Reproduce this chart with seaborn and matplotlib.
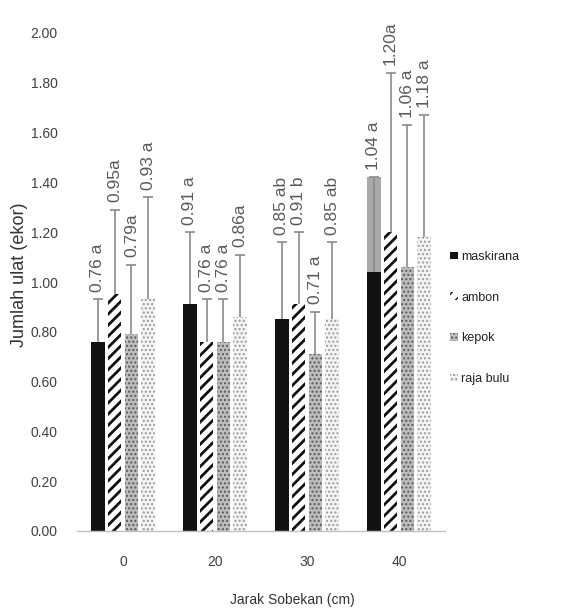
#!/usr/bin/env python3

"""
Jumlah ulat per varietas pisang menurut jarak sobekan daun.
"""

import matplotlib.patches as mpatches
import matplotlib.pyplot as plt
import pandas as pd
import seaborn as sns

# data
jarak = ["0", "20", "30", "40"]
varietas = ["maskirana", "ambon", "kepok", "raja bulu"]

maskirana = [0.76, 0.91, 0.85, 1.04]
ambon = [0.95, 0.76, 0.91, 1.20]
kepok = [0.79, 0.76, 0.71, 1.06]
raja_bulu = [0.93, 0.86, 0.85, 1.18]

# upper error (read from caps)
err_maskirana = [0.17, 0.29, 0.31, 0.38]
err_ambon = [0.34, 0.17, 0.29, 0.64]
err_kepok = [0.28, 0.17, 0.17, 0.57]
err_raja_bulu = [0.41, 0.25, 0.31, 0.49]

label_maskirana = ["0.76 a", "0.91 a", "0.85 ab", "1.04 a"]
label_ambon = ["0.95a", "0.76 a", "0.91 b", "1.20a"]
label_kepok = ["0.79a", "0.76 a", "0.71 a", "1.06 a"]
label_raja_bulu = ["0.93 a", "0.86a", "0.85 ab", "1.18 a"]

# error shown as a grey block in the original
sorot = ("40", "maskirana")

y_ticks = [0.0, 0.2, 0.4, 0.6, 0.8, 1.0, 1.2, 1.4, 1.6, 1.8, 2.0]


def main():
    sns.set_theme(style="white")
    plt.rcParams["font.family"] = ["Liberation Sans", "DejaVu Sans"]

    nilai = [maskirana, ambon, kepok, raja_bulu]
    galat = [err_maskirana, err_ambon, err_kepok, err_raja_bulu]
    teks = [label_maskirana, label_ambon, label_kepok, label_raja_bulu]

    rows = []
    for v, vals in zip(varietas, nilai):
        for j, y in zip(jarak, vals):
            rows.append({"jarak": j, "varietas": v, "jumlah": y})
    df = pd.DataFrame(rows)

    fig = plt.figure(figsize=(5.72, 6.13), dpi=100)
    ax = fig.add_axes([77 / 572, 1 - 531 / 613, 368 / 572, 498 / 613])

    sns.barplot(
        data=df, x="jarak", y="jumlah", hue="varietas",
        order=jarak, hue_order=varietas, errorbar=None,
        width=0.73, gap=0.2, ax=ax, legend=False,
    )

    styles = [
        dict(facecolor="#121212", edgecolor="#121212", hatch=None, hlw=1.0),
        dict(facecolor="white", edgecolor="#111111", hatch="///", hlw=2.0),
        dict(facecolor="#bdbdbd", edgecolor="#5a5a5a", hatch="....", hlw=1.0),
        dict(facecolor="#f4f4f4", edgecolor="#9a9a9a", hatch="....", hlw=1.0),
    ]

    for cont, st, vals, errs, labs, v in zip(ax.containers, styles, nilai, galat, teks, varietas):
        for p, y, e, lab, j in zip(cont.patches, vals, errs, labs, jarak):
            p.set_facecolor(st["facecolor"])
            p.set_edgecolor(st["edgecolor"])
            p.set_linewidth(0)
            if st["hatch"]:
                p.set_hatch(st["hatch"])
                if hasattr(p, "set_hatch_linewidth"):
                    p.set_hatch_linewidth(st["hlw"])
            xc = p.get_x() + p.get_width() / 2
            if (j, v) == sorot:
                ax.bar(xc, e, bottom=y, width=p.get_width(), color="#a9a9a9", linewidth=0)
            ax.vlines(xc, y, y + e, color="#8a8a8a", lw=1.2, zorder=3)
            ax.hlines(y + e, xc - 0.055, xc + 0.055, color="#8a8a8a", lw=1.2, zorder=3)
            ax.text(xc, y + e + 0.03, lab, rotation=90, ha="center", va="bottom",
                    fontsize=12.5, color="#5a5a5a")

    ax.set_ylim(0, 2)
    ax.set_xlim(-0.5, 3.5)
    ax.set_yticks(y_ticks)
    ax.set_yticklabels([f"{t:.2f}" for t in y_ticks])
    ax.tick_params(axis="y", length=0, pad=14, labelsize=10, labelcolor="#404040")
    ax.tick_params(axis="x", length=0, pad=17, labelsize=10, labelcolor="#404040")
    ax.set_xlabel("")
    ax.set_ylabel("")

    for side in ["top", "right", "left"]:
        ax.spines[side].set_visible(False)
    ax.spines["bottom"].set_color("#c0c0c0")
    ax.spines["bottom"].set_linewidth(1.0)

    fig.text(20 / 572, 1 - 275 / 613, "Jumlah ulat (ekor)", rotation=90,
             ha="center", va="center", fontsize=13, color="#333333")
    fig.text(292 / 572, 1 - 600 / 613, "Jarak Sobekan (cm)",
             ha="center", va="center", fontsize=10, color="#333333")

    handles = []
    for st in styles:
        h = mpatches.Patch(facecolor=st["facecolor"], edgecolor=st["edgecolor"],
                           hatch=st["hatch"], linewidth=0)
        handles.append(h)
    ax.legend(
        handles, varietas, loc="center left",
        bbox_to_anchor=(450 / 572, 1 - 318 / 613), bbox_transform=fig.transFigure,
        frameon=False, fontsize=9, handlelength=0.6, handleheight=0.6,
        handletextpad=0.3, labelspacing=2.3, borderpad=0, borderaxespad=0,
        labelcolor="#222222",
    )

    fig.savefig("out.png", dpi=100)


if __name__ == "__main__":
    main()
